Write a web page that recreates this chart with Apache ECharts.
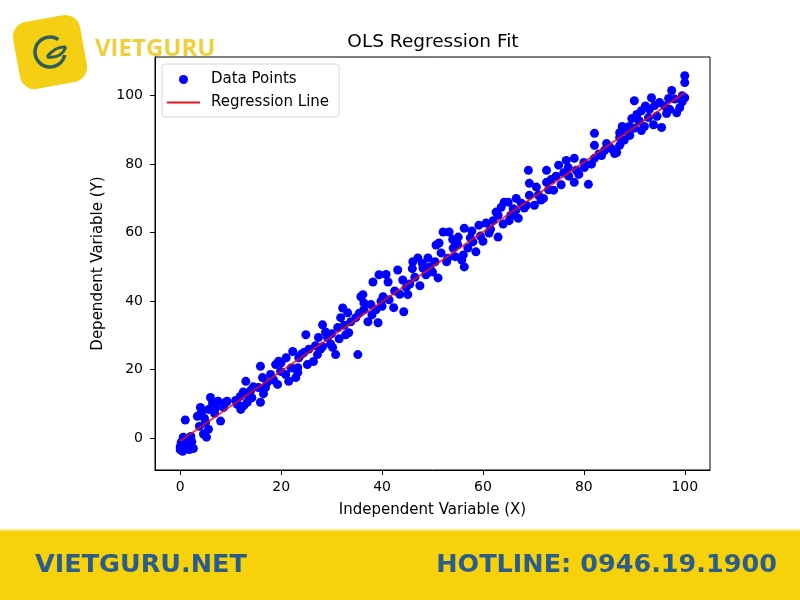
<!DOCTYPE html>
<html><head><meta charset="utf-8">
<script src="https://cdn.jsdelivr.net/npm/echarts@6/dist/echarts.min.js"></script>
<style>html,body{margin:0;padding:0;background:#fff}#c{width:800px;height:600px}</style>
</head><body><div id="c"></div>
<script>
const xValues = [
  0,0,0.2,0.5,0.8,1,1.2,1.5,1.8,2,2.3,0.6,1,2.6,2.1,
  3.4,4,4.2,4.6,5,5.6,5.6,6,6.4,7.5,8,9,9.3,7,4.8,6.8,8.6,3.8,5.2,
  11.3,12,11.9,13.3,13.3,13,14.5,15.5,15.9,16.3,12.5,14,16.9,11,16.5,15.9,17.9,14.2,12.6,17.2,
  18.9,19.3,19.9,20.9,21.5,22.3,22.9,23.5,23.3,23.3,24.9,25.2,24.5,20,21,22,18.5,19.5,25.5,24,
  26.4,27.2,27.4,28.2,28.2,29.2,30.2,30.8,31.2,32.2,31.8,32.8,33.8,29.8,26.8,28.8,30,31.5,33.4,33.2,27.8,32.5,
  35.2,34.8,36.2,36.4,37.2,39.2,38.8,39.4,41.2,40.2,41.4,42.3,43.1,44.1,44.3,38.2,36.4,35.8,37.8,40,42.5,43.5,35.5,38,40.8,39.8,
  45.1,46.1,47.1,48.1,48.7,49.1,51.1,50.7,52.1,51.7,45.5,46.5,47.5,49.5,50,46,48,51.3,50.5,44.8,
  53.3,55.1,56.3,54.1,56.1,56.3,58.6,59.2,60.6,61.2,58,53,54.5,55,57,57.5,59.5,60,52.8,55.8,61.5,54,57.8,
  63,63.6,65,66.6,67,68.2,69,69.2,69.2,62.6,63,64.2,65.5,66,67.6,68.6,70.2,70.6,64,62,71,71.5,66.5,65.2,
  72.6,72.6,74,72,76.5,78.1,76.9,78.5,78.1,80.9,80.1,82.1,75,73.5,74.5,75.5,77,79,80,81.5,73,76,
  82.1,82.1,84.1,86.1,87.1,87.1,87.6,87.1,89.1,86.5,83,85,88,89,85.5,83.5,88.5,89.5,84.5,
  90,90.9,91.4,91.4,92.8,93.4,94,95.4,96.4,97.4,98.4,99,100,100,100,90.5,92,93,94.5,95,96,97,98,99.5,91,93.8,96.8,99.5,92.2,90
];
const yValues = [
  -3.4,-2.5,-1.2,-3.8,-2,-0.5,-3,-1.5,-3.3,-2.4,-1,0.3,5.3,-3,0.5,
  6.4,9,7.6,1.2,4.6,2.6,8.4,11.9,10.2,10.8,5,10.5,10.8,8.8,5.8,7.3,9,3.5,0.3,
  9.9,8.4,12.2,10.5,12.8,16.6,15,14.8,21,17.7,13.5,14,14.8,11,13,10.5,18.6,11.8,9.5,16.2,
  21.5,15.7,19.5,18.6,16.6,25.3,17.7,23.5,20.6,19.2,30.2,21.5,25,22,23.5,20.5,17,22.5,26,24.5,
  22.4,24.4,29.4,33.1,26.7,29.4,26.5,24.4,32.3,38,35.2,30.2,34,27.5,27,31,30.5,29,30.8,36.6,26,33,
  24.4,35.2,41.9,39.5,34,33.7,37.5,47.7,45.6,41.3,40.4,38.1,49.1,46.2,36.9,45.6,37.5,41.3,39,38.5,43,42,36.5,36,47.8,40,
  41.9,51.5,52.6,49.7,47.7,52.6,46.8,56.4,60.2,54.1,45,47,44.5,50,48.5,49.5,51,57,51.5,44,
  60.2,58.7,61.3,55.5,53.5,50,54.4,62.2,62.8,59.9,57.3,52.5,53,56.5,55.5,58.5,59,57.5,51.5,52,61,58,60.5,
  58.7,67.4,68.9,70,64.2,67.2,78.2,74.4,70.9,66,65.1,68.9,65,67,68.6,68,68,73.3,62.5,63.5,71,69.5,66.5,63.5,
  78.2,74.7,72.4,70,81.1,81.7,79,78.2,74.7,74.1,79,81.7,79.7,75.5,76.5,74,76.5,77,80.5,80,72.5,77.5,
  89,85.5,84,83.1,89.2,85.5,91,87.8,88.4,83.4,83,85,87,91,84.5,82.5,89.5,93.3,86,
  98.5,92.7,89.8,95.6,93.6,99.4,97.1,90.7,94.8,101.5,95,96.5,105.8,103.8,99.4,94.5,91,96,94,98,97,96,99,100,92.5,91.5,99.2,98.2,97,90.5
];
const lineX = [0, 100];
const lineY = [-0.8, 100.9];
const xTicks = [0, 20, 40, 60, 80, 100];
const yTicks = [0, 20, 40, 60, 80, 100];

const FONT = "'DejaVu Sans', sans-serif";
const chart = echarts.init(document.getElementById('c'), null, {renderer: 'canvas'});
const pts = xValues.map((x, i) => [x, yValues[i]]);
const linePts = lineX.map((x, i) => [x, lineY[i]]);
const FOOT = "bold 25.5px 'DejaVu Sans', sans-serif";

chart.setOption({
  animation: false,
  backgroundColor: '#ffffff',
  title: {
    text: 'OLS Regression Fit',
    left: 428, top: 28, textAlign: 'center',
    textStyle: {fontFamily: FONT, fontSize: 18.5, fontWeight: 'normal', color: '#000'}
  },
  grid: {left: 155, top: 57, width: 555, height: 413, show: true, borderColor: '#000', borderWidth: 1, backgroundColor: 'transparent'},
  legend: {
    orient: 'vertical', left: 162, top: 64,
    data: [
      {name: 'Data Points', icon: 'circle'},
      {name: 'Regression Line', icon: 'path://M0,0 L33,0 L33,2 L0,2 Z'}
    ],
    itemWidth: 33, itemHeight: 9, itemGap: 8,
    padding: [8, 10, 7, 5],
    borderColor: '#d6d6d6', borderWidth: 1, borderRadius: 3, backgroundColor: '#fff',
    textStyle: {fontFamily: FONT, fontSize: 15, color: '#000', padding: [0, 0, 0, 6]}
  },
  xAxis: {
    type: 'value', min: -5, max: 105,
    splitLine: {show: false},
    axisLine: {show: true, onZero: false, lineStyle: {color: '#000', width: 1}},
    axisTick: {show: true, customValues: xTicks, length: 5, lineStyle: {color: '#000'}},
    axisLabel: {customValues: xTicks, color: '#000', fontFamily: FONT, fontSize: 14, margin: 10},
    name: 'Independent Variable (X)', nameLocation: 'middle', nameGap: 33,
    nameTextStyle: {fontFamily: FONT, fontSize: 15, color: '#000'}
  },
  yAxis: {
    type: 'value', min: -9.28, max: 111.28,
    splitLine: {show: false},
    axisLine: {show: true, onZero: false, lineStyle: {color: '#000', width: 1}},
    axisTick: {show: true, customValues: yTicks, length: 5, lineStyle: {color: '#000'}},
    axisLabel: {customValues: yTicks, color: '#000', fontFamily: FONT, fontSize: 14, margin: 12},
    name: 'Dependent Variable (Y)', nameLocation: 'middle', nameGap: 49,
    nameTextStyle: {fontFamily: FONT, fontSize: 15, color: '#000'}
  },
  series: [
    {name: 'Data Points', type: 'scatter', data: pts, symbolSize: 9,
     itemStyle: {color: '#0000ff', opacity: 1}, z: 2},
    {name: 'Regression Line', type: 'line', data: linePts, symbol: 'none',
     lineStyle: {color: '#e8101a', width: 2, opacity: 0.8}, itemStyle: {color: '#e8101a'}, z: 3}
  ],
  graphic: [
    {type: 'rect', x: 0, y: 531, shape: {x: 0, y: 0, width: 800, height: 69}, style: {fill: '#f7d10a'}, z: -1},
    {type: 'rect', x: 0, y: 529, shape: {x: 0, y: 0, width: 800, height: 2}, style: {fill: '#fbe887'}, z: -1},
    {type: 'text', x: 35, y: 565, style: {text: 'VIETGURU.NET', fill: '#2a5d8c', font: FOOT, textVerticalAlign: 'middle', verticalAlign: 'middle'}},
    {type: 'text', x: 777, y: 565, style: {text: 'HOTLINE: 0946.19.1900', fill: '#2a5d8c', font: FOOT, textAlign: 'right', align: 'right', textVerticalAlign: 'middle', verticalAlign: 'middle'}},
    {type: 'group', x: 50, y: 52, rotation: 0.18, children: [
      {type: 'rect', shape: {x: -34, y: -34, width: 68, height: 68, r: 15}, style: {fill: '#f5cf14'}}
    ]},
    {type: 'arc', x: 50, y: 52, shape: {cx: 0, cy: 0, r: 15, startAngle: 0.2, endAngle: 5.3, clockwise: true}, style: {stroke: '#2f5d5b', lineWidth: 3.5, fill: null}},
    {type: 'bezierCurve', x: 50, y: 52, shape: {x1: -3, y1: 5, x2: 16, y2: -5, cpx1: 5, cpy1: -6}, style: {stroke: '#2f5d5b', lineWidth: 3, fill: null}},
    {type: 'bezierCurve', x: 50, y: 52, shape: {x1: -3, y1: 5, x2: 16, y2: -5, cpx1: 11, cpy1: 7}, style: {stroke: '#2f5d5b', lineWidth: 3, fill: null}},
    {type: 'text', x: 95, y: 49, style: {text: 'VIETGURU', fill: '#f0cf3c', font: "bold 24px 'Open Sans', 'DejaVu Sans', sans-serif", verticalAlign: 'middle', textVerticalAlign: 'middle'}}
  ]
});
</script></body></html>
